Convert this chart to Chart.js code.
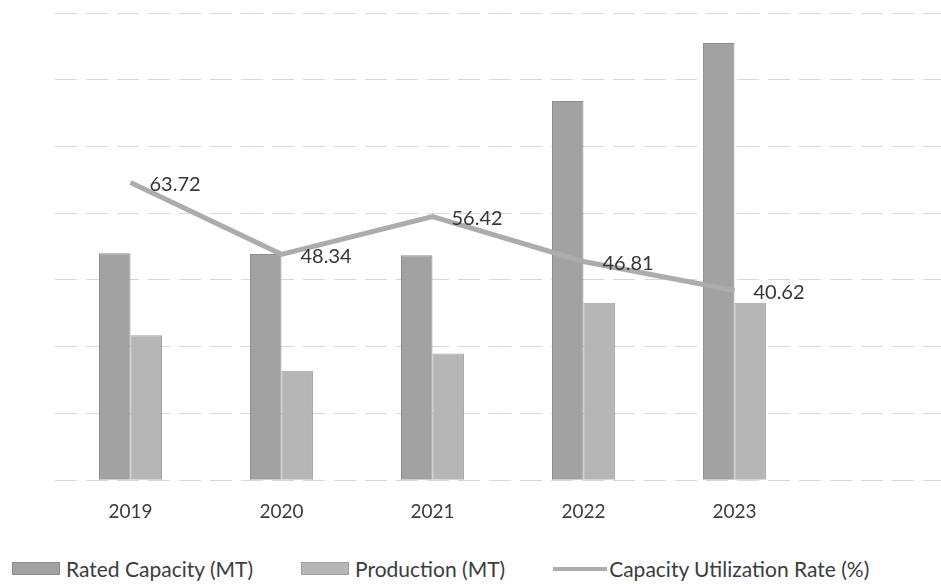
<!DOCTYPE html>
<html>
<head>
<meta charset="utf-8">
<script src="https://cdn.jsdelivr.net/npm/chart.js@4.4.1/dist/chart.umd.min.js"></script>
<style>
  html, body { margin: 0; padding: 0; background: #fff; overflow: hidden; }
  #wrap { position: relative; width: 941px; height: 584px; }
  #box { position: absolute; left: 0; top: 0; width: 941px; height: 535px; }
  #legend { position: absolute; left: 12px; top: 556px; display: flex; align-items: center;
            font-family: Lato, "Open Sans", sans-serif; font-size: 21px; color: #3c3c3c; white-space: nowrap; }
  #legend .item { display: flex; align-items: center; margin-right: 48px; }
  #legend .sw { width: 48px; height: 13px; margin-right: 6px; box-sizing: border-box; }
  #legend .ln { width: 54px; height: 4px; margin-right: 2px; }
</style>
</head>
<body>
<div id="wrap">
  <div id="box"><canvas id="utilChart"></canvas></div>
  <div id="legend"></div>
</div>
<script>
const years = ['2019', '2020', '2021', '2022', '2023'];
const ratedCapacity = [3.40, 3.39, 3.37, 5.68, 6.55];
const production = [2.17, 1.64, 1.90, 2.66, 2.66];
const utilizationRate = [63.72, 48.34, 56.42, 46.81, 40.62];

const toPoints = (vals) => vals.map((v, i) => ({ x: i, y: v }));

// draws the % value to the right of each point on the line
const lineLabels = {
    id: 'lineLabels',
    afterDatasetsDraw(chart) {
        const meta = chart.getDatasetMeta(2);
        const ctx = chart.ctx;
        ctx.save();
        ctx.font = '20px Lato, "Open Sans", sans-serif';
        ctx.fillStyle = '#363636';
        ctx.textAlign = 'left';
        ctx.textBaseline = 'middle';
        meta.data.forEach((pt, i) => {
            ctx.fillText(utilizationRate[i].toFixed(2), pt.x + 19, pt.y + 2);
        });
        ctx.restore();
    }
};

const ctx = document.getElementById('utilChart').getContext('2d');
const chart = new Chart(ctx, {
    type: 'bar',
    data: {
        datasets: [{
            label: 'Rated Capacity (MT)',
            data: toPoints(ratedCapacity),
            backgroundColor: '#a2a2a2',
            borderColor: '#8c8c8c',
            borderWidth: 1,
            yAxisID: 'y',
            order: 2
        }, {
            label: 'Production (MT)',
            data: toPoints(production),
            backgroundColor: '#b6b6b6',
            borderColor: '#a0a0a0',
            borderWidth: 1,
            yAxisID: 'y',
            order: 2
        }, {
            type: 'line',
            label: 'Capacity Utilization Rate (%)',
            data: toPoints(utilizationRate),
            borderColor: '#acacac',
            backgroundColor: '#acacac',
            borderWidth: 5,
            pointRadius: 0,
            tension: 0,
            yAxisID: 'y2',
            order: 1
        }]
    },
    options: {
        responsive: true,
        maintainAspectRatio: false,
        animation: false,
        categoryPercentage: 0.417,
        barPercentage: 1,
        layout: { padding: { left: 55, right: 0, top: 13, bottom: 0 } },
        plugins: {
            legend: { display: false },
            tooltip: { enabled: false }
        },
        scales: {
            x: {
                type: 'linear',
                offset: false,
                min: -0.5,
                max: 5.368,
                afterBuildTicks: (axis) => { axis.ticks = years.map((y, i) => ({ value: i })); },
                grid: { display: false },
                border: { display: false },
                ticks: {
                    padding: 12,
                    maxRotation: 0,
                    autoSkip: false,
                    color: '#3c3c3c',
                    font: { family: 'Lato, "Open Sans", sans-serif', size: 19 },
                    callback: (v, i) => years[i]
                }
            },
            y: {
                min: 0,
                max: 7,
                ticks: { display: false, stepSize: 1 },
                grid: { color: '#d8d8d8', lineWidth: 1, drawTicks: false },
                border: { display: false, dash: [22, 9] }
            },
            y2: {
                display: false,
                min: 0,
                max: 100
            }
        }
    },
    plugins: [lineLabels]
});

// html legend built from the chart's datasets
const legendEl = document.getElementById('legend');
chart.data.datasets.forEach((ds) => {
    const item = document.createElement('div');
    item.className = 'item';
    const sw = document.createElement('span');
    if (ds.type === 'line') {
        sw.className = 'ln';
        sw.style.background = ds.borderColor;
    } else {
        sw.className = 'sw';
        sw.style.background = ds.backgroundColor;
        sw.style.border = '1px solid ' + ds.borderColor;
    }
    const txt = document.createElement('span');
    txt.textContent = ds.label;
    item.appendChild(sw);
    item.appendChild(txt);
    legendEl.appendChild(item);
});
</script>
</body>
</html>
